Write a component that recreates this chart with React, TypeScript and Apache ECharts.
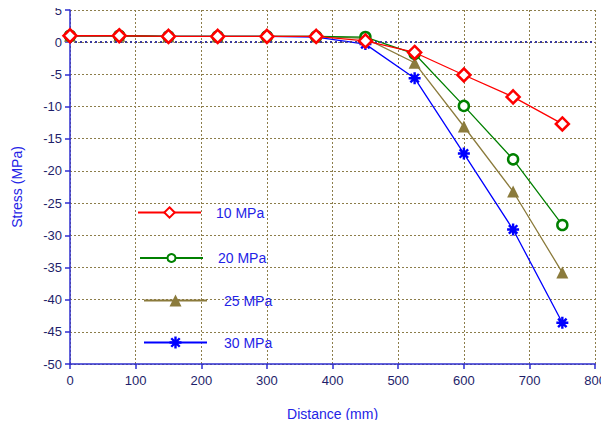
import React, { useEffect, useRef } from "react";
import * as echarts from "echarts";

const distances = [0, 75, 150, 225, 300, 375, 450, 525, 600, 675, 750];
const seriesNames = ["10 MPa", "20 MPa", "25 MPa", "30 MPa"];
const s10 = [1.0, 1.0, 0.9, 0.9, 0.9, 0.9, 0.2, -1.6, -5.1, -8.5, -12.7];
const s20 = [1.0, 1.0, 0.9, 0.9, 0.9, 0.9, 0.8, -1.8, -9.9, -18.2, -28.4];
const s25 = [1.0, 1.0, 0.9, 0.9, 0.9, 0.9, 0.6, -3.2, -13.1, -23.2, -35.8];
const s30 = [1.0, 1.0, 0.9, 0.9, 0.9, 0.8, -0.3, -5.6, -17.3, -29.1, -43.6];
const xTicks = [0, 100, 200, 300, 400, 500, 600, 700, 800];
const yTicks = [5, 0, -5, -10, -15, -20, -25, -30, -35, -40, -45, -50];

const asterisk =
  "path://M-6,-1.2 L6,-1.2 L6,1.2 L-6,1.2 Z M-1.2,-6 L1.2,-6 L1.2,6 L-1.2,6 Z " +
  "M-3.394,-5.091 L5.091,3.394 L3.394,5.091 L-5.091,-3.394 Z " +
  "M3.394,-5.091 L5.091,-3.394 L-3.394,5.091 L-5.091,3.394 Z";

export default function App() {
  const ref = useRef<HTMLDivElement>(null);
  useEffect(() => {
    if (!ref.current) return;
    const chart = echarts.init(ref.current, null, { renderer: "svg" });
    const pair = (vals: number[]) => distances.map((d, i) => [d, vals[i]]);
    const axisBlue = "#2e2ed0";
    const gridOlive = "#8c7d4a";
    const labelNavy = "#1e1e6a";
    const font = "Liberation Sans, Arial, sans-serif";
    const legendCenters = [212, 256, 301, 343];
    const legendHeights = [13, 10, 15, 15];
    const legendLefts = [137, 139, 143, 143];
    const textPads = [10, 10, 12, 12];
    const legends = seriesNames.map((n, i) => ({
      data: [n],
      left: legendLefts[i],
      top: legendCenters[i] - legendHeights[i] / 2,
      orient: "vertical",
      padding: 0,
      itemWidth: 63,
      itemHeight: legendHeights[i],
      selectedMode: false,
      textStyle: {
        color: "#2323e6",
        fontSize: 14,
        fontFamily: font,
        padding: [0, 0, 0, textPads[i]],
      },
    }));
    chart.setOption({
      animation: false,
      backgroundColor: "#ffffff",
      legend: legends,
      grid: { left: 70, right: 11, top: 10, bottom: 64, containLabel: false },
      xAxis: {
        type: "value",
        min: 0,
        max: 800,
        interval: 100,
        name: "Distance (mm)",
        nameLocation: "middle",
        nameGap: 43,
        nameTextStyle: { color: "#2323e6", fontSize: 14, fontFamily: font },
        axisLine: { onZero: false, lineStyle: { color: axisBlue, width: 1.5 } },
        axisTick: { show: true, inside: false, length: 5, lineStyle: { color: axisBlue, width: 1.5 } },
        axisLabel: {
          color: labelNavy,
          fontSize: 13,
          fontFamily: font,
          margin: 10,
          formatter: (v: number) => (xTicks.includes(v) ? String(v) : ""),
        },
        splitLine: { show: true, lineStyle: { color: gridOlive, type: [2, 2], width: 1 } },
      },
      yAxis: {
        type: "value",
        min: -50,
        max: 5,
        interval: 5,
        name: "Stress (MPa)",
        nameLocation: "middle",
        nameGap: 46,
        nameTextStyle: { color: "#2323e6", fontSize: 14, fontFamily: font },
        axisLine: { onZero: false, lineStyle: { color: axisBlue, width: 1.5 } },
        axisTick: { show: true, inside: false, length: 5, lineStyle: { color: axisBlue, width: 1.5 } },
        axisLabel: {
          color: labelNavy,
          fontSize: 13,
          fontFamily: font,
          margin: 8,
          formatter: (v: number) => (yTicks.includes(v) ? String(v) : ""),
        },
        splitLine: { show: true, lineStyle: { color: gridOlive, type: [2, 2], width: 1 } },
      },
      series: [
        {
          name: seriesNames[0],
          type: "line",
          data: pair(s10),
          symbol: "diamond",
          symbolSize: 13,
          z: 5,
          lineStyle: { color: "#ff0000", width: 1.3 },
          itemStyle: { color: "#ffffff", borderColor: "#ff0000", borderWidth: 2.5 },
          markLine: {
            silent: true,
            symbol: "none",
            label: { show: false },
            lineStyle: { color: "#3a3aa0", type: [2, 3], width: 2 },
            data: [{ yAxis: 0 }],
          },
        },
        {
          name: seriesNames[1],
          type: "line",
          data: pair(s20),
          symbol: "circle",
          symbolSize: 10,
          z: 4,
          lineStyle: { color: "#008000", width: 1.3 },
          itemStyle: { color: "#ffffff", borderColor: "#008000", borderWidth: 2.5 },
        },
        {
          name: seriesNames[2],
          type: "line",
          data: pair(s25),
          symbol: "triangle",
          symbolSize: 12,
          z: 3,
          lineStyle: { color: "#8b7b3c", width: 1.3 },
          itemStyle: { color: "#8b7b3c", borderColor: "#8b7b3c", borderWidth: 0 },
        },
        {
          name: seriesNames[3],
          type: "line",
          data: pair(s30),
          symbol: asterisk,
          symbolSize: 12,
          z: 2,
          lineStyle: { color: "#0000ff", width: 1.3 },
          itemStyle: { color: "#0000ff", borderWidth: 0 },
        },
      ],
    });
    return () => chart.dispose();
  }, []);
  return <div ref={ref} style={{ width: 609, height: 428, margin: -8 }} />;
}
